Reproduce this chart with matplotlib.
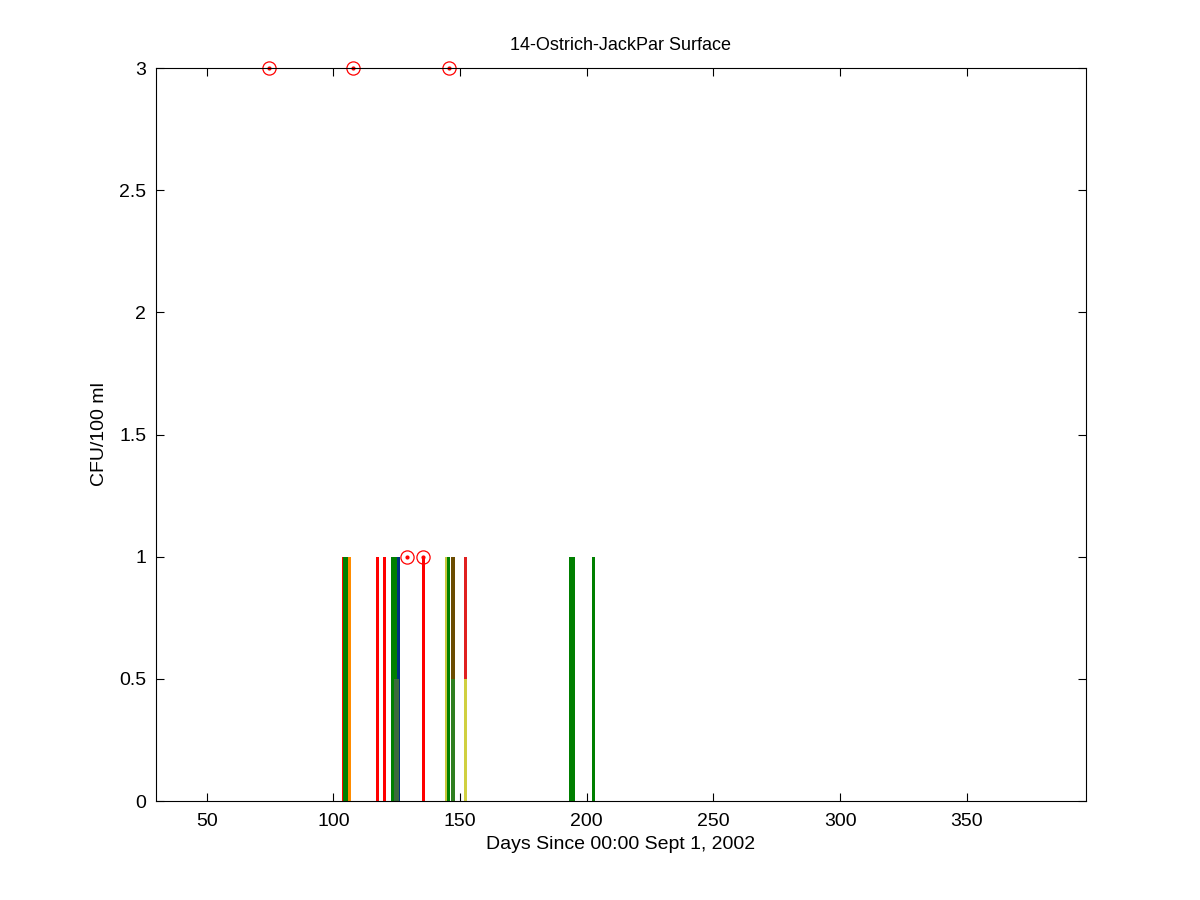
import matplotlib
matplotlib.use("Agg")
import matplotlib.pyplot as plt

plt.rcParams['font.family'] = ['Liberation Sans', 'DejaVu Sans']

# muestras con 1 CFU/100 ml (lineas verticales de 0 a 1)
red_days = [103.8, 117.4, 120.1, 135.4]
green_thick_days = [104.8, 194.0]
green_days = [123.2, 124.5]
green_thin_days = [145.3, 202.5]
orange_days = [106.0]
blue_days = [125.4]
yellow_days = [144.5]
brown_days = [147.2]
red_top_days = [152.0]

# parte inferior (0 a 0.5)
dkgreen_low_days = [124.7]
green_low_days = [147.2]
yellow_low_days = [152.0]

# circulos
circ_days = [74.7, 107.6, 145.8, 129.0, 135.4]
circ_vals = [3, 3, 3, 1, 1]

fig = plt.figure(figsize=(12, 9), dpi=100)
ax = fig.add_axes([0.13, 0.11, 0.775, 0.8144])

px = 1 / 1.389  # un pixel en puntos
aa = False
ax.vlines(red_days, 0, 1, colors='#ff0000', linewidth=1.1 * px, antialiased=aa)
ax.vlines(green_thick_days, 0, 1, colors='#007f00', linewidth=4.5 * px, antialiased=aa)
ax.vlines(green_days, 0, 1, colors='#007f00', linewidth=3 * px, antialiased=aa)
ax.vlines(green_thin_days, 0, 1, colors='#008000', linewidth=1.1 * px, antialiased=aa)
ax.vlines(orange_days, 0, 1, colors='#ff8c00', linewidth=1.5 * px, antialiased=aa)
ax.vlines(blue_days, 0, 1, colors='#00307f', linewidth=1.1 * px, antialiased=aa)
ax.vlines(yellow_days, 0, 1, colors='#c8c83c', linewidth=2 * px, antialiased=aa)
ax.vlines(brown_days, 0, 1, colors='#6b4c00', linewidth=2.5 * px, antialiased=aa)
ax.vlines(red_top_days, 0.5, 1, colors='#e02020', linewidth=1.4 * px, antialiased=aa)

ax.vlines(dkgreen_low_days, 0, 0.5, colors='#3c6b3c', linewidth=5 * px, antialiased=aa)
ax.vlines(green_low_days, 0, 0.5, colors='#2f7f1f', linewidth=2.5 * px, antialiased=aa)
ax.vlines(yellow_low_days, 0, 0.5, colors='#d0d040', linewidth=1.4 * px, antialiased=aa)

ax.plot(circ_days, circ_vals, 'o', mfc='none', mec='red', ms=9.5, mew=0.9, clip_on=False)
ax.plot(circ_days, circ_vals, '.', color='red', ms=4, clip_on=False)

ax.set_xlim(30, 397)
ax.set_ylim(0, 3)
ax.set_xticks([50, 100, 150, 200, 250, 300, 350])
ax.set_yticks([0, 0.5, 1, 1.5, 2, 2.5, 3])
ax.set_yticklabels(['0', '0.5', '1', '1.5', '2', '2.5', '3'])
ax.tick_params(direction='in', top=True, right=True, length=6, labelsize=14, width=0.8)
ax.tick_params(axis='x', pad=9)
ax.tick_params(axis='y', pad=7)
for s in ax.spines.values():
    s.set_linewidth(0.8)

ax.set_title('14-Ostrich-JackPar Surface', fontsize=13, pad=13)
ax.set_xlabel('Days Since 00:00 Sept 1, 2002', fontsize=14, labelpad=4)
ax.set_ylabel('CFU/100 ml', fontsize=14, labelpad=8)

fig.savefig('out.png', dpi=100)
